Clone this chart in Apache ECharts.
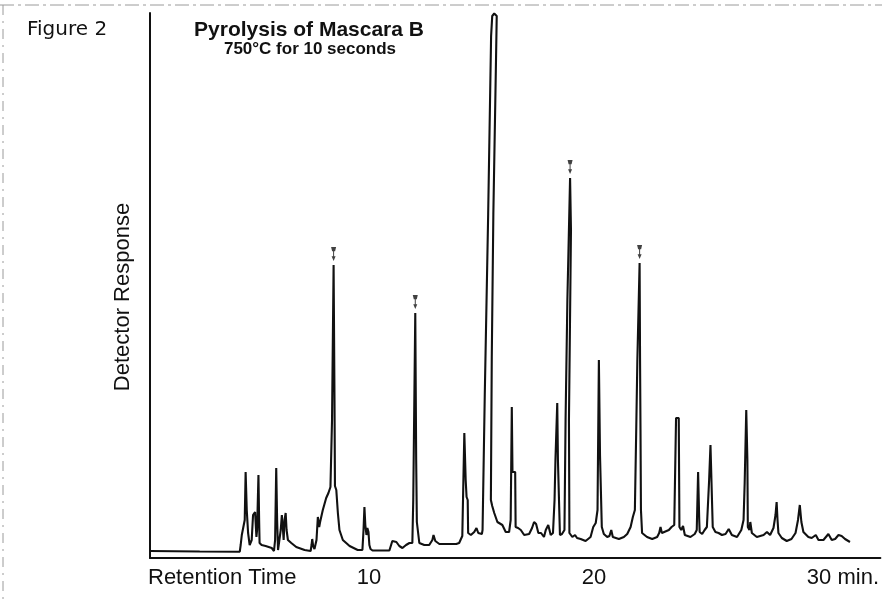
<!DOCTYPE html>
<html>
<head>
<meta charset="utf-8">
<script src="https://cdn.jsdelivr.net/npm/echarts@6/dist/echarts.min.js"></script>
<style>
  html, body { margin: 0; padding: 0; background: #fff; }
  #chart { width: 882px; height: 599px; }
</style>
</head>
<body>
<div id="chart"></div>
<script>
// retention time (min) and detector response (arbitrary units)
const retentionTime = [
  0.27, 2.48, 4.26, 4.30, 4.35, 4.43, 4.48, 4.52, 4.57, 4.63, 4.70, 4.79, 4.85, 4.89, 4.94, 5.00,
  5.03, 5.09, 5.12, 5.14, 5.23, 5.41, 5.68, 5.78, 5.83, 5.88, 5.92, 5.96, 6.03, 6.08, 6.13, 6.18,
  6.21, 6.25, 6.30, 6.34, 6.40, 6.55, 6.77, 7.14, 7.41, 7.45, 7.48, 7.52, 7.58, 7.67, 7.73, 7.79,
  7.83, 7.88, 7.95, 8.10, 8.20, 8.29, 8.36, 8.43, 8.47, 8.49, 8.55, 8.62, 8.69, 8.84, 9.14, 9.50,
  9.71, 9.76, 9.80, 9.84, 9.89, 9.93, 9.98, 10.02, 10.07, 10.16, 10.91, 11.04, 11.22, 11.35, 11.49, 11.65,
  11.80, 11.93, 11.97, 12.06, 12.10, 12.13, 12.16, 12.24, 12.46, 12.68, 12.82, 12.87, 12.95, 13.13, 13.57, 13.88,
  14.01, 14.15, 14.24, 14.30, 14.34, 14.39, 14.41, 14.53, 14.68, 14.78, 14.86, 14.90, 15.02, 15.05, 15.15, 15.30,
  15.43, 15.48, 15.57, 15.68, 15.64, 15.53, 15.46, 15.42, 15.48, 15.57, 15.71, 15.93, 16.08, 16.23, 16.30, 16.35,
  16.38, 16.50, 16.52, 16.63, 16.75, 16.90, 17.12, 17.25, 17.34, 17.43, 17.53, 17.65, 17.78, 17.86, 17.97, 18.08,
  18.18, 18.25, 18.29, 18.37, 18.40, 18.45, 18.49, 18.58, 18.69, 18.74, 18.82, 18.94, 18.98, 18.89, 18.91, 19.04,
  19.16, 19.25, 19.41, 19.63, 19.85, 19.97, 20.08, 20.16, 20.22, 20.27, 20.34, 20.35, 20.44, 20.59, 20.69, 20.77,
  20.84, 21.11, 21.33, 21.48, 21.63, 21.73, 21.82, 21.88, 21.93, 22.03, 22.05, 22.07, 22.09, 22.14, 22.36, 22.59,
  22.81, 22.90, 22.96, 23.02, 23.10, 23.33, 23.45, 23.57, 23.65, 23.77, 23.80, 23.88, 23.96, 24.04, 24.29, 24.48,
  24.57, 24.63, 24.68, 24.70, 24.81, 24.92, 25.02, 25.12, 25.18, 25.25, 25.28, 25.40, 25.54, 25.69, 25.85, 25.99,
  26.13, 26.36, 26.55, 26.65, 26.70, 26.77, 26.82, 26.84, 26.91, 26.95, 27.02, 27.24, 27.54, 27.69, 27.83, 27.98,
  28.07, 28.12, 28.16, 28.20, 28.35, 28.57, 28.78, 28.96, 29.07, 29.15, 29.22, 29.31, 29.53, 29.68, 29.86, 29.98,
  30.20, 30.42, 30.57, 30.72, 30.87, 31.01, 31.16, 31.38
];
const response = [
  7, 6.5, 6.3, 13, 23, 24, 38, 86, 48, 25, 13, 18, 43, 42, 46, 21,
  28, 83, 38, 15, 13, 12, 10, 7, 18, 90, 38, 8, 9, 28, 43, 28,
  18, 38, 45, 28, 18, 15, 11, 8, 7, 13, 19, 12, 9, 18, 41, 31,
  36, 37, 48, 60, 65, 71, 138, 293, 158, 72, 68, 45, 28, 18, 12, 8,
  8, 28, 51, 33, 23, 30, 26, 13, 9, 7.5, 7.5, 17, 16, 12, 10, 13,
  15, 15, 58, 245, 98, 36, 35, 15, 13, 13, 18, 23, 17, 14, 14, 14,
  15, 22, 125, 78, 61, 58, 25, 23, 26, 30, 25, 23, 24, 28, 165, 344,
  522, 542, 544.5, 542, 487, 344, 201, 58, 52, 45, 36, 33, 26, 26, 38, 151,
  86, 86, 31, 30, 28, 23, 24, 30, 36, 34, 25, 25, 21, 28, 33, 23,
  25, 58, 98, 155, 98, 96, 23, 24, 28, 138, 258, 380, 328, 138, 25, 21,
  23, 20, 19, 17, 21, 31, 35, 48, 198, 103, 103, 31, 24, 21, 22, 28,
  21, 19, 21, 24, 31, 41, 48, 128, 198, 295, 198, 128, 48, 25, 21, 19,
  21, 25, 31, 25, 23, 28, 31, 33, 140, 140, 31, 28, 32, 23, 21, 24,
  28, 86, 38, 26, 24, 28, 31, 78, 113, 111, 31, 26, 25, 23, 24, 29,
  23, 21, 28, 38, 75, 148, 98, 31, 28, 36, 25, 21, 23, 26, 23, 30,
  43, 56, 38, 25, 20, 17, 19, 25, 38, 53, 36, 26, 21, 20, 23, 18,
  18, 24, 18, 19, 23, 22, 19, 16
];
// peaks flagged with an arrow in the figure
const markedTime = [8.43, 12.06, 18.94, 22.03];
const markedResponse = [293, 245, 380, 295];
const tickValues = [10, 20, 30];

const font = 'Liberation Sans, Arial, Helvetica, sans-serif';
const ink = '#111';

const chart = echarts.init(document.getElementById('chart'), null, { renderer: 'canvas' });

chart.setOption({
  animation: false,
  backgroundColor: '#fff',
  grid: { left: 150, right: 0, top: 13, bottom: 41 },
  xAxis: {
    type: 'value',
    min: 0.27,
    max: 32.73,
    axisLine: { lineStyle: { color: ink, width: 2 } },
    axisTick: { show: false },
    splitLine: { show: false },
    axisLabel: {
      customValues: tickValues,
      margin: 9,
      color: ink,
      fontFamily: font,
      fontSize: 22,
      formatter: v => v === 30 ? '{pad|}30 min.' : String(v),
      rich: { pad: { width: 48 } }
    }
  },
  yAxis: {
    type: 'value',
    min: 0,
    max: 545,
    axisLine: { show: true, lineStyle: { color: ink, width: 2 } },
    axisTick: { show: false },
    axisLabel: { show: false },
    splitLine: { show: false }
  },
  series: [
    {
      type: 'line',
      data: retentionTime.map((t, i) => [t, response[i]]),
      showSymbol: false,
      lineStyle: { color: ink, width: 2.1 },
      clip: true,
      z: 2
    },
    {
      type: 'scatter',
      data: markedTime.map((t, i) => [t, markedResponse[i]]),
      symbol: 'path://M0 0L10 0L8 8L2 8Z M4 8L6 8L6 18L4 18Z M1 17L9 17L5 26Z',
      symbolSize: [5, 14],
      symbolOffset: [0, -11],
      itemStyle: { color: ink },
      z: 3
    }
  ],
  graphic: [
    { type: 'line', shape: { x1: 0, y1: 5, x2: 882, y2: 5 },
      style: { stroke: '#9a9a9a', lineWidth: 1, lineDash: [14, 4, 3, 4] } },
    { type: 'line', shape: { x1: 3, y1: 5, x2: 3, y2: 599 },
      style: { stroke: '#9a9a9a', lineWidth: 1, lineDash: [10, 6, 2, 6] } },
    { type: 'text', left: 27, top: 20,
      style: { text: 'Figure 2', font: '20px DejaVu Sans, ' + font, fill: ink } },
    { type: 'text', x: 309, y: 30,
      style: { text: 'Pyrolysis of Mascara B', font: 'bold 21px ' + font, fill: ink,
               textAlign: 'center', textVerticalAlign: 'middle' } },
    { type: 'text', x: 310, y: 49,
      style: { text: '750°C for 10 seconds', font: 'bold 17px ' + font, fill: ink,
               textAlign: 'center', textVerticalAlign: 'middle' } },
    { type: 'text', x: 123, y: 297, rotation: Math.PI / 2,
      style: { text: 'Detector Response', font: '22px ' + font, fill: ink,
               textAlign: 'center', textVerticalAlign: 'middle' } },
    { type: 'text', left: 148, top: 567,
      style: { text: 'Retention Time', font: '22px ' + font, fill: ink } }
  ]
});
</script>
</body>
</html>
